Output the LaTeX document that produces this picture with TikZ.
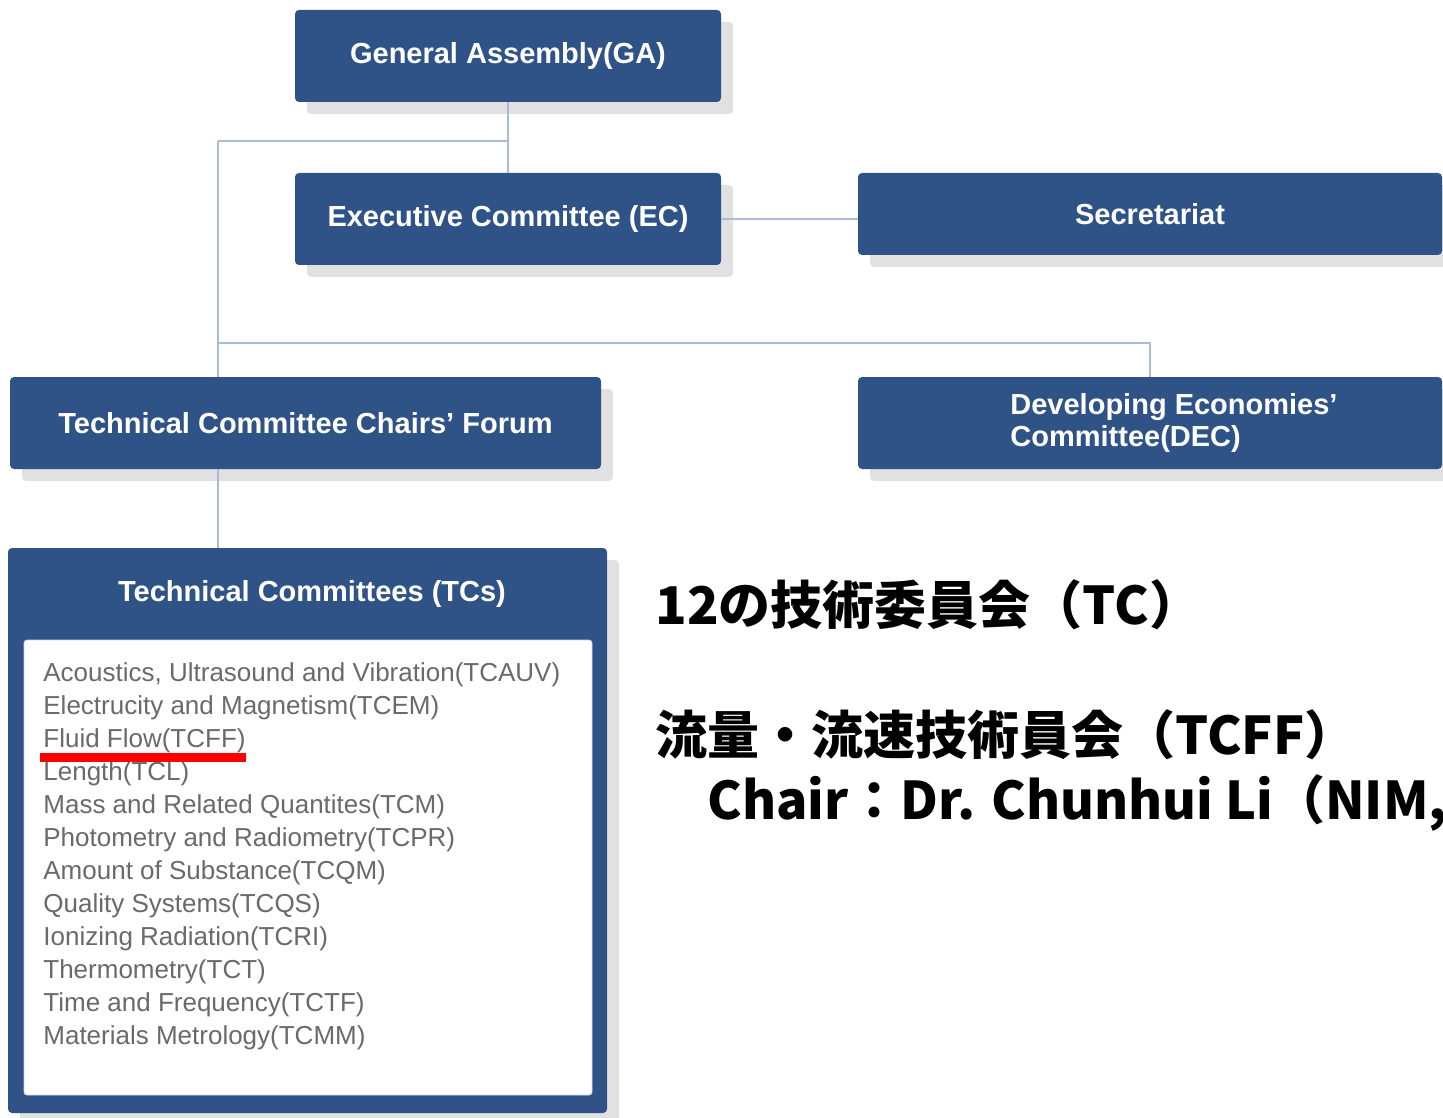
\documentclass[tikz,border=0pt]{standalone}
\usepackage{fontspec}
\newfontfamily\boxfont{Liberation Sans}
\newfontfamily\jpfont{Noto Sans CJK JP}
\usetikzlibrary{shadows}
\definecolor{orgblue}{HTML}{2F5387}
\definecolor{linkblue}{HTML}{A9BCD3}
\definecolor{shade}{HTML}{E1E1E1}
\definecolor{listgray}{HTML}{6A6A6A}

\begin{document}
\begin{tikzpicture}[x=0.5pt, y=-0.5pt,
  org/.style={fill=orgblue, rounded corners=2pt, text=white, inner sep=0pt,
    font=\boxfont\bfseries\fontsize{14.5}{16}\selectfont,
    drop shadow={shadow xshift=6pt, shadow yshift=-6pt, fill=shade, opacity=1}},
  orgtext/.style={text=white, inner sep=0pt, font=\boxfont\bfseries\fontsize{14.5}{16}\selectfont},
  tcitem/.style={anchor=west, inner sep=0pt, text=listgray, font=\boxfont\fontsize{13}{16}\selectfont},
  link/.style={draw=linkblue, line width=0.8pt}]
\useasboundingbox (0,0) rectangle (1443,1117);

\coordinate (j1) at (218,141);
\coordinate (j2) at (218,343);

\node[org, minimum width=213pt, minimum height=46pt] (ga) at (508,56) {General Assembly(GA)};
\node[org, minimum width=213pt, minimum height=46pt] (ec) at (508,219) {Executive Committee (EC)};
\node[org, minimum width=292pt, minimum height=41pt] (sec) at (1150,214) {Secretariat};
\node[org, minimum width=295.5pt, minimum height=46pt] (tccf) at (305.5,423) {Technical Committee Chairs’ Forum};
\node[org, minimum width=292pt, minimum height=46pt] (dec) at (1150,423) {};
\node[orgtext, align=left, anchor=west] (dectext) at (1010,423) {Developing Economies’\\Committee(DEC)};

% technical committees
\node[org, minimum width=299.5pt, minimum height=282.5pt] (tcs) at (307.5,830.5) {};
\node[orgtext] (tchead) at (312,594) {Technical Committees (TCs)};
\node[fill=white, draw=linkblue!60, rounded corners=1.5pt, inner sep=0pt,
  minimum width=284pt, minimum height=227.5pt] (tclist) at (308,867.5) {};
\foreach \name [count=\i] in {{Acoustics, Ultrasound and Vibration(TCAUV)},
    {Electrucity and Magnetism(TCEM)}, {Fluid Flow(TCFF)}, {Length(TCL)},
    {Mass and Related Quantites(TCM)}, {Photometry and Radiometry(TCPR)},
    {Amount of Substance(TCQM)}, {Quality Systems(TCQS)},
    {Ionizing Radiation(TCRI)}, {Thermometry(TCT)},
    {Time and Frequency(TCTF)}, {Materials Metrology(TCMM)}}
  \node[tcitem] (t\i) at (43,642+33*\i) {\name};
\draw[red, line width=4.5pt] ([xshift=-1.5pt,yshift=-2pt]t3.south west) -- ([yshift=-2pt]t3.south east);

\draw[link] (ga.south) -- (ec.north);
\draw[link] (j1) -- (j1 -| ga.south);
\draw[link] (j1) -- (j1 |- tccf.north);
\draw[link] (j2) -| (dec.north);
\draw[link] (ec.east) -- (ec.east -| sec.west);
\draw[link] (tccf.south -| j1) -- (tcs.north -| j1);

\node[anchor=west, inner sep=0pt, align=left,
  font=\jpfont\bfseries\fontsize{26}{32.5}\selectfont] (jp) at (655,705) {12の技術委員会（TC）\\ \\流量・流速技術員会（TCFF）\\　Chair：Dr. Chunhui Li（NIM,};
\end{tikzpicture}
\end{document}
